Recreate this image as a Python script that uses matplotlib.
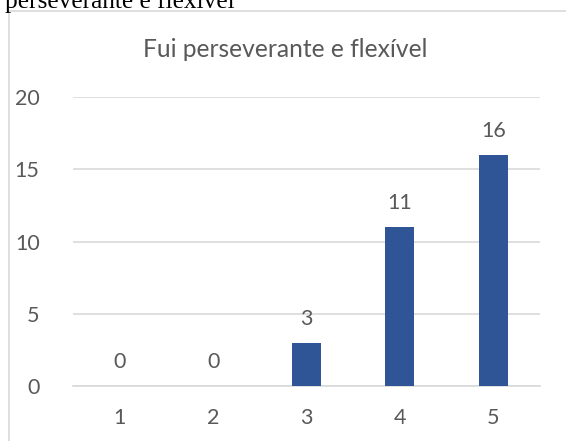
import matplotlib
matplotlib.use("Agg")
import matplotlib.pyplot as plt
from matplotlib.patches import Rectangle

categories = ["1", "2", "3", "4", "5"]
values = [0, 0, 3, 11, 16]
yticks = [0, 5, 10, 15, 20]
title = "Fui perseverante e flexível"
caption = "perseverante e flexível"

W, H = 566, 441
DPI = 100
fig = plt.figure(figsize=(W / DPI, H / DPI), dpi=DPI)
fig.patch.set_facecolor("white")

plt.rcParams['font.family'] = ['Lato', 'DejaVu Sans']
txt = "#595959"
grid = "#d9d9d9"
bar_c = "#2f5597"

# chart frame (extends beyond the image)
fig.patches.append(Rectangle((9 / W, -0.1), 1.0, 1 - 11 / H + 0.1, transform=fig.transFigure,
                             fill=False, edgecolor=grid, linewidth=1.2, zorder=0))

# caption text from the surrounding document (cut off at top, as in the reference)
fig.text(5 / W, 1 - 8 / H, caption, family="Liberation Serif", fontsize=18.3,
         color="black", ha="left", va="baseline")

left, right = 73 / W, 540 / W
bottom, top = 1 - 386 / H, 1 - 97 / H
ax = fig.add_axes([left, bottom, right - left, top - bottom])
x = list(range(len(categories)))
bars = ax.bar(x, values, width=0.31, color=bar_c, zorder=3)
ax.set_xlim(-0.5, len(categories) - 0.5)
ax.set_ylim(0, 20)
ax.set_yticks(yticks)
ax.set_xticks(x)
ax.set_xticklabels(categories)
for s in ["top", "right", "left"]:
    ax.spines[s].set_visible(False)
ax.spines["bottom"].set_color(grid)
ax.spines["bottom"].set_linewidth(1.2)
ax.yaxis.grid(True, color=grid, linewidth=1.2, zorder=0)
ax.set_axisbelow(True)
ax.tick_params(axis="both", length=0, labelsize=15.5, labelcolor=txt)
ax.tick_params(axis="y", pad=24)
ax.tick_params(axis="x", pad=16)

for xi, v in zip(x, values):
    ax.annotate(str(v), (xi, v), xytext=(0, 13), textcoords="offset points",
                ha="center", va="baseline", fontsize=15.5, color=txt)

fig.text(285 / W, 1 - 57 / H, title, ha="center", va="baseline",
         fontsize=17.7, color=txt)

fig.savefig("out.png", dpi=DPI, facecolor="white")
